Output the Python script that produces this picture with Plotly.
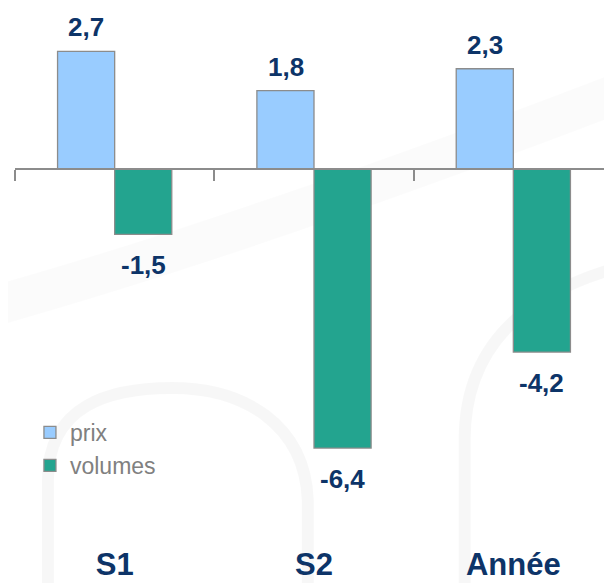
"""Prix et volumes par semestre : barres groupées."""

import plotly.graph_objects as go

categories = ["S1", "S2", "Année"]
prix = [2.7, 1.8, 2.3]
volumes = [-1.5, -6.4, -4.2]

NAVY = "#0D3468"
BLUE = "#99CCFF"
GREEN = "#23A48F"
EDGE = "#8C8C8C"
FONT = "Liberation Sans, Arial"

W, H = 612, 583
M_L, M_R, M_T, M_B = 7, 6.5, 0, 45
Y_RANGE = [-8.647, 3.693]
PAGE_OFFSET = 8  # default body margin of the html page


def fmt(v):
    return f"{v:.1f}".replace(".", ",")


def to_paper(points):
    """Page pixel coordinates -> paper coordinates (decoration only)."""
    pw = W - M_L - M_R
    ph = H - M_T - M_B
    out = []
    for px, py in points:
        fx = px - PAGE_OFFSET
        fy = py - PAGE_OFFSET
        out.append(((fx - M_L) / pw, 1 - (fy - M_T) / ph))
    return out


def path(cmds):
    parts = []
    for cmd, pts in cmds:
        conv = to_paper(pts)
        parts.append(cmd + " " + " ".join(f"{x:.4f},{y:.4f}" for x, y in conv))
    return " ".join(parts)


fig = go.Figure()
fig.add_trace(
    go.Bar(
        x=categories,
        y=prix,
        name="prix",
        marker=dict(color=BLUE, line=dict(color=EDGE, width=1.3)),
        legendgroup="a",
    )
)
fig.add_trace(
    go.Bar(
        x=categories,
        y=volumes,
        name="volumes",
        marker=dict(color=GREEN, line=dict(color=EDGE, width=1.3)),
        legendgroup="b",
    )
)
# invisible trace carrying the zero-line axis with boundary ticks
fig.add_trace(
    go.Scatter(
        x=categories,
        y=[0, 0, 0],
        xaxis="x2",
        mode="markers",
        marker=dict(opacity=0),
        showlegend=False,
        hoverinfo="skip",
    )
)

# value labels
for vals, shift in ((prix, -28.5), (volumes, 28.5)):
    for cat, v in zip(categories, vals):
        fig.add_annotation(
            x=cat,
            y=v,
            xref="x",
            yref="y",
            xshift=shift,
            yshift=24 if v > 0 else -31,
            yanchor="middle",
            text=fmt(v),
            showarrow=False,
            font=dict(family=FONT, size=26, color=NAVY, weight="bold"),
        )

# faint background arcs of the slide template
deco = [
    ([("M", [(-20, 310)]), ("Q", [(250, 235), (640, 85)])], 40, 0.016),
    (
        [
            ("M", [(48, 600)]),
            ("L", [(48, 480)]),
            ("C", [(48, 405), (110, 388), (172, 388)]),
            ("C", [(245, 388), (305, 425), (308, 500)]),
            ("L", [(308, 600)]),
        ],
        12,
        0.03,
    ),
    (
        [
            ("M", [(465, 600)]),
            ("L", [(465, 440)]),
            ("C", [(465, 335), (540, 285), (640, 262)]),
        ],
        12,
        0.03,
    ),
]
for cmds, width, alpha in deco:
    fig.add_shape(
        type="path",
        path=path(cmds),
        xref="paper",
        yref="paper",
        layer="below",
        line=dict(color=f"rgba(0,0,0,{alpha})", width=width),
    )

fig.update_layout(
    width=W,
    height=H,
    margin=dict(l=M_L, r=M_R, t=M_T, b=M_B),
    paper_bgcolor="white",
    plot_bgcolor="rgba(0,0,0,0)",
    barmode="group",
    bargap=0.427,
    bargroupgap=0,
    showlegend=True,
    legend=dict(
        x=0.025,
        y=0.251,
        xanchor="left",
        yanchor="top",
        traceorder="grouped",
        tracegroupgap=0,
        bgcolor="rgba(0,0,0,0)",
        font=dict(family=FONT, size=23, color="#808080"),
    ),
    xaxis=dict(
        range=[-0.5, 2.5],
        showline=False,
        showgrid=False,
        zeroline=False,
        ticks="",
        ticklabelstandoff=-3,
        tickfont=dict(family=FONT, size=31, color=NAVY, weight="bold"),
    ),
    xaxis2=dict(
        overlaying="x",
        anchor="free",
        position=(0 - Y_RANGE[0]) / (Y_RANGE[1] - Y_RANGE[0]),
        range=[-0.5, 2.5],
        showline=True,
        linecolor=EDGE,
        linewidth=1.5,
        ticks="outside",
        tickson="boundaries",
        ticklen=11,
        tickwidth=1.5,
        tickcolor=EDGE,
        showticklabels=False,
        showgrid=False,
        zeroline=False,
        side="bottom",
    ),
    yaxis=dict(
        range=Y_RANGE,
        visible=False,
        showgrid=False,
        zeroline=False,
    ),
)

fig.write_html("out.html")
